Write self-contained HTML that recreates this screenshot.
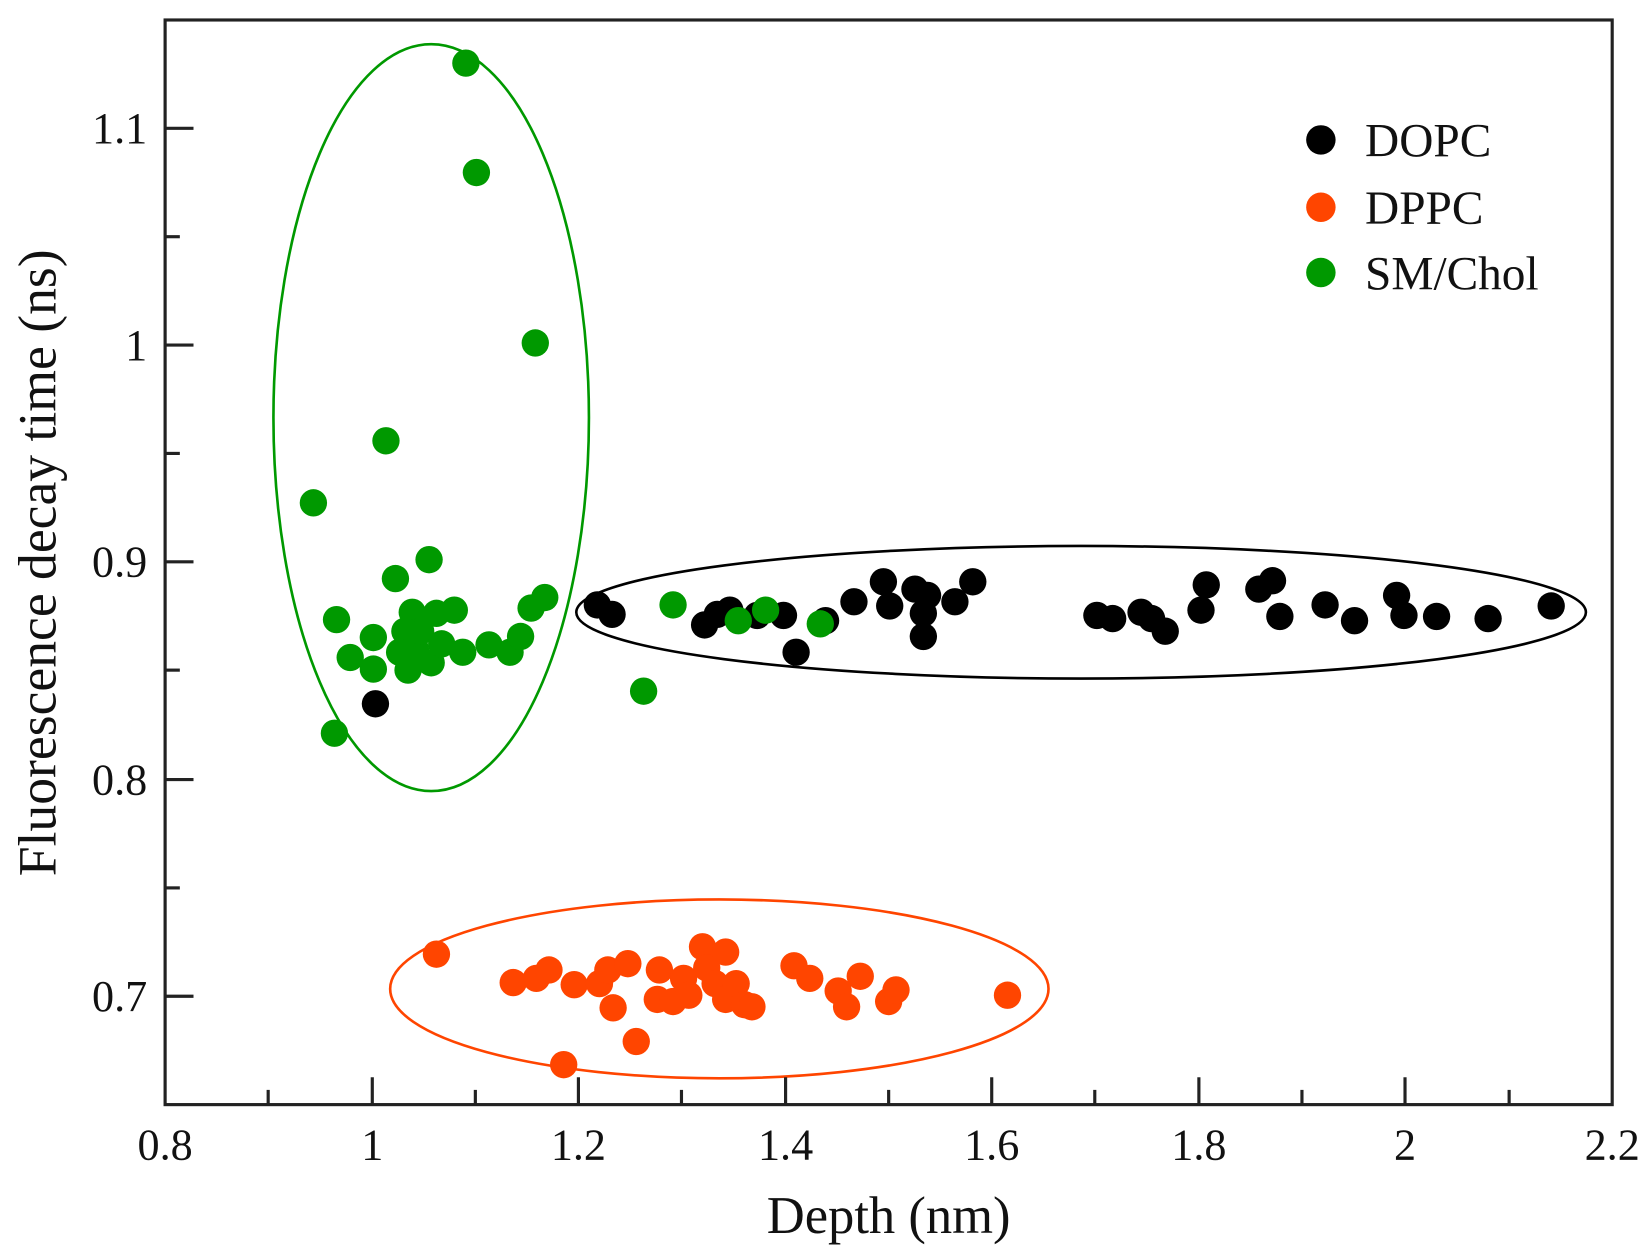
<!DOCTYPE html>
<html><head><meta charset="utf-8"><style>
html,body{margin:0;padding:0;background:#fff}
svg{display:block}
text{font-family:"Liberation Serif",serif;fill:#111}
</style></head><body>
<svg width="1649" height="1254" viewBox="0 0 1568 1192" preserveAspectRatio="none" xmlns="http://www.w3.org/2000/svg">
<rect x="0" y="0" width="1568" height="1192" fill="#fff"/>
<ellipse cx="410" cy="397" rx="150" ry="355" fill="none" stroke="#009900" stroke-width="2.5"/>
<ellipse cx="1028" cy="582" rx="480" ry="63" fill="none" stroke="#000" stroke-width="2.5"/>
<ellipse cx="684" cy="940" rx="313" ry="85" fill="none" stroke="#ff4500" stroke-width="2.5"/>
<g fill="#ff4500">
<circle cx="415" cy="907" r="13"/><circle cx="488" cy="934" r="13"/><circle cx="510" cy="930" r="13"/><circle cx="522" cy="922" r="13"/><circle cx="546" cy="936" r="13"/><circle cx="570" cy="935" r="13"/><circle cx="578" cy="922" r="13"/><circle cx="583" cy="958" r="13"/><circle cx="597" cy="916" r="13"/><circle cx="627" cy="922" r="13"/><circle cx="625" cy="950" r="13"/><circle cx="640" cy="952" r="13"/><circle cx="650" cy="930" r="13"/><circle cx="668" cy="900" r="13"/><circle cx="672" cy="920" r="13"/><circle cx="690" cy="905" r="13"/><circle cx="680" cy="935" r="13"/><circle cx="690" cy="950" r="13"/><circle cx="700" cy="935" r="13"/><circle cx="708" cy="955" r="13"/><circle cx="715" cy="957" r="13"/><circle cx="755" cy="918" r="13"/><circle cx="770" cy="930" r="13"/><circle cx="797" cy="942" r="13"/><circle cx="805" cy="957" r="13"/><circle cx="818" cy="928" r="13"/><circle cx="845" cy="952" r="13"/><circle cx="852" cy="941" r="13"/><circle cx="958" cy="946" r="13"/><circle cx="605" cy="990" r="13"/><circle cx="536" cy="1012" r="13"/><circle cx="655" cy="946" r="13"/>
</g>
<g fill="#000">
<circle cx="568" cy="575" r="13"/><circle cx="582" cy="584" r="13"/><circle cx="670" cy="594" r="13"/><circle cx="682" cy="584" r="13"/><circle cx="694" cy="580" r="13"/><circle cx="720" cy="585" r="13"/><circle cx="745" cy="585" r="13"/><circle cx="757" cy="620" r="13"/><circle cx="785" cy="590" r="13"/><circle cx="812" cy="572" r="13"/><circle cx="840" cy="553" r="13"/><circle cx="846" cy="576" r="13"/><circle cx="870" cy="560" r="13"/><circle cx="878" cy="583" r="13"/><circle cx="878" cy="605" r="13"/><circle cx="882" cy="566" r="13"/><circle cx="908" cy="572" r="13"/><circle cx="925" cy="553" r="13"/><circle cx="1043" cy="585" r="13"/><circle cx="1058" cy="588" r="13"/><circle cx="1085" cy="582" r="13"/><circle cx="1095" cy="588" r="13"/><circle cx="1108" cy="600" r="13"/><circle cx="1142" cy="580" r="13"/><circle cx="1147" cy="556" r="13"/><circle cx="1197" cy="560" r="13"/><circle cx="1210" cy="552" r="13"/><circle cx="1217" cy="586" r="13"/><circle cx="1260" cy="575" r="13"/><circle cx="1288" cy="590" r="13"/><circle cx="1328" cy="566" r="13"/><circle cx="1335" cy="585" r="13"/><circle cx="1366" cy="586" r="13"/><circle cx="1415" cy="588" r="13"/><circle cx="1475" cy="576" r="13"/>
</g>
<g fill="#009900">
<circle cx="443" cy="60" r="13"/><circle cx="453" cy="164" r="13"/><circle cx="509" cy="326" r="13"/><circle cx="367" cy="419" r="13"/><circle cx="298" cy="478" r="13"/><circle cx="408" cy="532" r="13"/><circle cx="376" cy="550" r="13"/><circle cx="320" cy="589" r="13"/><circle cx="333" cy="625" r="13"/><circle cx="355" cy="606" r="13"/><circle cx="355" cy="636" r="13"/><circle cx="388" cy="637" r="13"/><circle cx="392" cy="582" r="13"/><circle cx="395" cy="617" r="13"/><circle cx="400" cy="600" r="13"/><circle cx="410" cy="630" r="13"/><circle cx="420" cy="612" r="13"/><circle cx="432" cy="580" r="13"/><circle cx="440" cy="620" r="13"/><circle cx="415" cy="583" r="13"/><circle cx="465" cy="613" r="13"/><circle cx="485" cy="620" r="13"/><circle cx="495" cy="605" r="13"/><circle cx="505" cy="578" r="13"/><circle cx="518" cy="568" r="13"/><circle cx="318" cy="697" r="13"/><circle cx="640" cy="575" r="13"/><circle cx="612" cy="657" r="13"/><circle cx="702" cy="590" r="13"/><circle cx="728" cy="580" r="13"/><circle cx="780" cy="593" r="13"/><circle cx="385" cy="600" r="13"/><circle cx="380" cy="620" r="13"/>
</g>
<circle cx="357" cy="669" r="13" fill="#000"/>
<rect x="157" y="19" width="1376" height="1031" fill="none" stroke="#222" stroke-width="3"/>
<g stroke="#222" stroke-width="3">
<line x1="354" y1="1050" x2="354" y2="1024"/><line x1="550" y1="1050" x2="550" y2="1024"/><line x1="747" y1="1050" x2="747" y2="1024"/><line x1="943" y1="1050" x2="943" y2="1024"/><line x1="1140" y1="1050" x2="1140" y2="1024"/><line x1="1336" y1="1050" x2="1336" y2="1024"/>
<line x1="255" y1="1050" x2="255" y2="1036"/><line x1="452" y1="1050" x2="452" y2="1036"/><line x1="648" y1="1050" x2="648" y2="1036"/><line x1="845" y1="1050" x2="845" y2="1036"/><line x1="1041" y1="1050" x2="1041" y2="1036"/><line x1="1238" y1="1050" x2="1238" y2="1036"/><line x1="1435" y1="1050" x2="1435" y2="1036"/>
<line x1="157" y1="122" x2="184" y2="122"/><line x1="157" y1="328" x2="184" y2="328"/><line x1="157" y1="534" x2="184" y2="534"/><line x1="157" y1="741" x2="184" y2="741"/><line x1="157" y1="947" x2="184" y2="947"/>
<line x1="157" y1="225" x2="171" y2="225"/><line x1="157" y1="431" x2="171" y2="431"/><line x1="157" y1="637" x2="171" y2="637"/><line x1="157" y1="844" x2="171" y2="844"/>
</g>
<g font-size="42" text-anchor="middle">
<text x="157" y="1102">0.8</text><text x="354" y="1102">1</text><text x="550" y="1102">1.2</text><text x="747" y="1102">1.4</text><text x="943" y="1102">1.6</text><text x="1140" y="1102">1.8</text><text x="1336" y="1102">2</text><text x="1533" y="1102">2.2</text>
</g>
<g font-size="42" text-anchor="end">
<text x="140" y="136">1.1</text><text x="140" y="342">1</text><text x="140" y="548">0.9</text><text x="140" y="755">0.8</text><text x="140" y="961">0.7</text>
</g>
<text x="845" y="1172" font-size="50" text-anchor="middle">Depth (nm)</text>
<text transform="translate(53,535) rotate(-90)" font-size="51" text-anchor="middle">Fluorescence decay time (ns)</text>
<circle cx="1256" cy="133" r="14" fill="#000"/><circle cx="1256" cy="197" r="14" fill="#ff4500"/><circle cx="1256" cy="259" r="14" fill="#009900"/>
<g font-size="45"><text x="1298" y="149">DOPC</text><text x="1298" y="213">DPPC</text><text x="1298" y="275">SM/Chol</text></g>
</svg>
</body></html>
